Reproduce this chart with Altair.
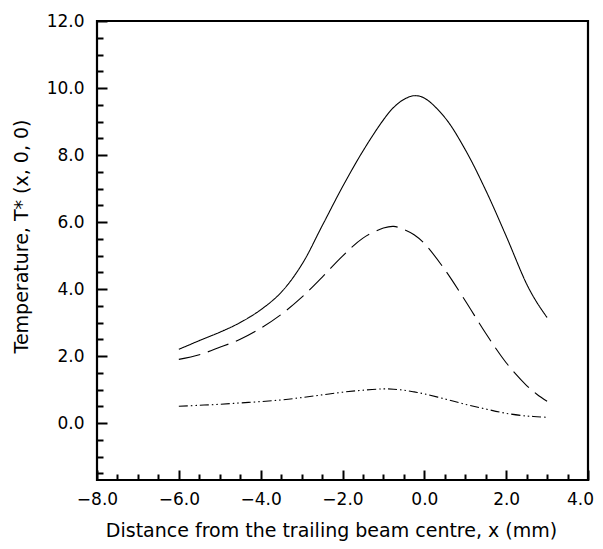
import altair as alt
import pandas as pd

x_vals = [-6.0, -5.5, -5.0, -4.5, -4.0, -3.5, -3.0, -2.5, -2.0, -1.5, -1.0, -0.75, -0.5, -0.25, 0.0, 0.5, 1.0, 1.5, 2.0, 2.5, 2.75, 3.0]
solid = [2.20, 2.46, 2.71, 3.00, 3.38, 3.90, 4.72, 5.88, 7.05, 8.12, 9.05, 9.42, 9.66, 9.77, 9.70, 9.12, 8.16, 6.95, 5.58, 4.15, 3.60, 3.15]
dashed = [1.90, 2.04, 2.26, 2.50, 2.83, 3.24, 3.75, 4.35, 4.98, 5.52, 5.82, 5.87, 5.78, 5.62, 5.36, 4.58, 3.65, 2.68, 1.80, 1.12, 0.86, 0.65]
dashdot = [0.50, 0.53, 0.56, 0.60, 0.64, 0.69, 0.76, 0.84, 0.92, 0.98, 1.02, 1.01, 0.98, 0.93, 0.87, 0.72, 0.56, 0.42, 0.29, 0.21, 0.19, 0.17]

series_names = ["solid", "dashed", "dashdot"]
x_ticks = [-8 + 0.5 * i for i in range(25)]
y_ticks = [-1.5 + 0.5 * i for i in range(28)]
x_major = [-8, -6, -4, -2, 0, 2, 4]
y_major = [0, 2, 4, 6, 8, 10, 12]

rows = []
for name, vals in zip(series_names, [solid, dashed, dashdot]):
    for xv, yv in zip(x_vals, vals):
        rows.append({"x": xv, "y": yv, "series": name})
df = pd.DataFrame(rows)

W, H = 491, 459
FONT = "DejaVu Sans"
xscale = alt.Scale(domain=[-8, 4], nice=False, zero=False)
yscale = alt.Scale(domain=[-1.7, 12], nice=False, zero=False)
tick_size = {"condition": {"test": "datum.value % 2 === 0", "value": 10}, "value": 6}
last_label_offset = {"condition": {"test": "datum.value === 4", "value": -8}, "value": 0}

lines = alt.Chart(df).mark_line(color="black", strokeWidth=1.1, interpolate="catmull-rom").encode(
    x=alt.X("x:Q", scale=xscale,
            axis=alt.Axis(orient="bottom", values=x_major, format=".1f", ticks=False, tickSize=0,
                          domain=False, grid=False, labelPadding=11, labelFlush=False,
                          labelOffset=last_label_offset,
                          labelFont=FONT, labelFontSize=17,
                          labelColor="black", title="Distance from the trailing beam centre, x (mm)",
                          titleFont=FONT, titleFontSize=19, titleFontWeight="normal", titleColor="black",
                          titlePadding=14, titleX=234)),
    y=alt.Y("y:Q", scale=yscale,
            axis=alt.Axis(orient="left", values=y_major, format=".1f", ticks=False, tickSize=0,
                          domain=False, grid=False, labelPadding=13, labelFlush=False,
                          labelFont=FONT, labelFontSize=17,
                          labelColor="black", title="Temperature, T* (x, 0, 0)",
                          titleFont=FONT, titleFontSize=19, titleFontWeight="normal", titleColor="black",
                          titlePadding=15, titleY=215)),
    strokeDash=alt.StrokeDash("series:N", scale=alt.Scale(domain=series_names,
                              range=[[1, 0], [22, 8], [9, 3, 1.5, 3, 1.5, 3]]), legend=None),
)

ticks = alt.Chart(df).mark_point(opacity=0).encode(
    x=alt.X("x:Q", scale=xscale,
            axis=alt.Axis(orient="top", offset=-H, values=x_ticks, labels=False, domain=False,
                          grid=False, title=None, tickSize=tick_size, tickWidth=2, tickColor="black")),
    y=alt.Y("y:Q", scale=yscale,
            axis=alt.Axis(orient="right", offset=-W, values=y_ticks, labels=False, domain=False,
                          grid=False, title=None, tickSize=tick_size, tickWidth=2, tickColor="black")),
)

chart = alt.layer(lines, ticks).resolve_axis(x="independent", y="independent").properties(
    width=W, height=H,
    autosize=alt.AutoSizeParams(type="none"),
    padding={"left": 89, "top": 13, "right": 7, "bottom": 61},
    background="white",
).configure_view(stroke="black", strokeWidth=2.2)

chart.save("out.html", embed_options={"renderer": "svg", "actions": False})
